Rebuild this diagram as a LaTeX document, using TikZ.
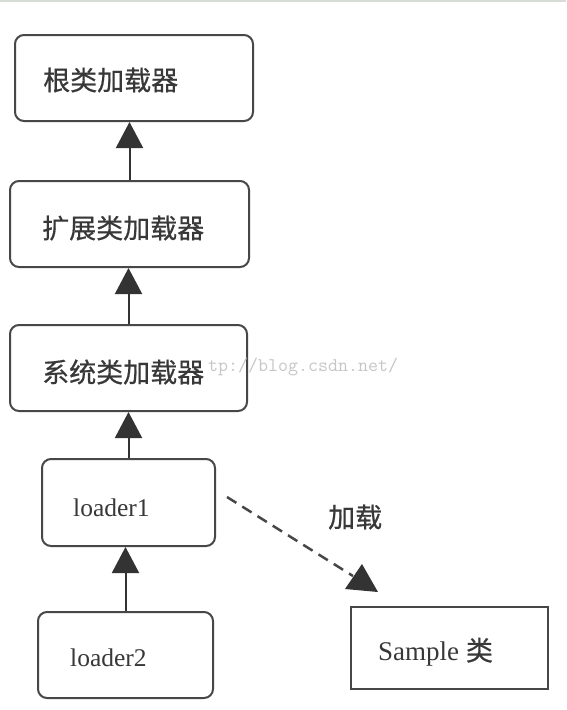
\documentclass[tikz,border=0pt]{standalone}
\usepackage{fontspec}
\setmainfont{Liberation Serif}
\newfontfamily\cjk[FakeBold=0.6]{Noto Sans CJK SC}
\usetikzlibrary{arrows.meta}
\definecolor{ink}{HTML}{383838}
\definecolor{edge}{HTML}{474747}
\definecolor{wm}{HTML}{C6C6C6}
\definecolor{topline}{HTML}{D6DCD6}
\begin{document}
\begin{tikzpicture}[x=1pt,y=-1pt,
  box/.style={draw=edge, line width=2pt, rounded corners=9pt, fill=white, inner sep=0pt},
  sbox/.style={draw=edge, line width=2pt, fill=white, inner sep=0pt},
  zh/.style={font=\cjk\fontsize{27}{29}\selectfont, text=ink, inner sep=0pt, anchor=west},
  en/.style={font=\fontsize{25.5}{28}\selectfont, text=ink, inner sep=0pt, anchor=west},
  wmark/.style={font=\ttfamily\fontsize{19.4}{20}\selectfont, text=wm, inner sep=0pt, anchor=west},
  up/.style={draw=black!80, line width=2pt, -{Triangle[length=26pt,width=27pt]}},
]
\useasboundingbox (0,0) rectangle (566,710);
\fill[white] (0,0) rectangle (566,710);
\draw[topline, line width=2pt] (0,1) -- (566,1);

\node[box, minimum width=238pt, minimum height=86pt] (b1) at (134,78) {};
\node[box, minimum width=239pt, minimum height=86pt] (b2) at (129.5,224) {};
\node[box, minimum width=237pt, minimum height=86pt] (b3) at (128.5,368) {};
\node[box, minimum width=173pt, minimum height=87pt] (b4) at (128.5,502.5) {};
\node[box, minimum width=175pt, minimum height=86pt] (b5) at (125.5,655) {};
\node[sbox, minimum width=197pt, minimum height=82pt] (s) at (449.5,648) {};

\node[zh] (t1) at (43,80) {根类加载器};
\node[zh] (t2) at (42,228) {扩展类加载器};
\node[zh] (t3) at (42,372) {系统类加载器};
\node[en] (t4) at (73,508) {loader1};
\node[en] (t5) at (70,658) {loader2};
\node[en, font=\fontsize{27}{29}\selectfont] (ts) at (378,652) {Sample {\cjk 类}};
\node[zh] (lab) at (328,517) {加载};
\node[wmark] (wm) at (208,367) {tp://blog.csdn.net/};

\draw[up] (b2.north) -- (b2.north |- b1.south);
\draw[up] (b3.north) -- (b3.north |- b2.south);
\draw[up] (b4.north) -- (b4.north |- b3.south);
\draw[up] (b5.north) -- (b5.north |- b4.south);

\coordinate (ds) at (227,497);
\coordinate (de) at (353,576);
\draw[edge, line width=2.5pt, dash pattern=on 11pt off 7pt] (ds) -- (de);
\fill[black!80] (362,564) -- (378,592) -- (345,589) -- cycle;
\end{tikzpicture}
\end{document}
